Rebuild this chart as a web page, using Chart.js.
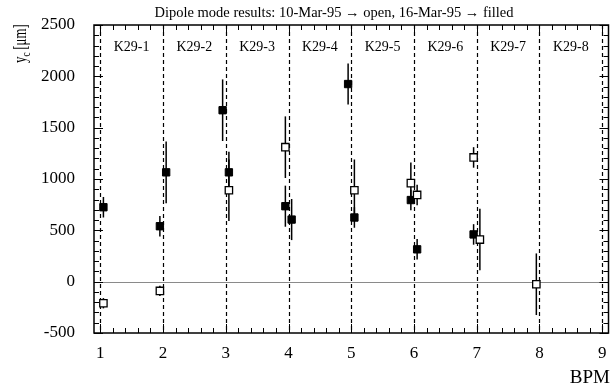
<!DOCTYPE html>
<html>
<head>
<meta charset="utf-8">
<script src="https://cdn.jsdelivr.net/npm/chart.js@4/dist/chart.umd.min.js"></script>
<style>
  body { margin: 0; background: #fff; }
  #wrap { width: 615px; height: 389px; }
</style>
</head>
<body>
<div id="wrap"><canvas id="dipoleChart" width="615" height="389"></canvas></div>
<script>
// chart data
const bpmTicks = [1, 2, 3, 4, 5, 6, 7, 8, 9];
const yTicks = [-500, 0, 500, 1000, 1500, 2000, 2500];
const sectionLabels = ["K29-1", "K29-2", "K29-3", "K29-4", "K29-5", "K29-6", "K29-7", "K29-8"];

// 10-Mar-95 -> open squares
const openX = [1.05, 1.95, 3.05, 3.95, 5.05, 5.95, 6.05, 6.95, 7.05, 7.95];
const openY = [-210, -90, 890, 1310, 890, 960, 845, 1210, 410, -25];
const openErr = [50, 50, 300, 300, 300, 200, 100, 100, 300, 300];

// 16-Mar-95 -> filled squares
const filledX = [1.05, 1.95, 2.05, 2.95, 3.05, 3.95, 4.05, 4.95, 5.05, 5.95, 6.05, 6.95];
const filledY = [725, 540, 1065, 1670, 1065, 735, 605, 1925, 625, 795, 315, 460];
const filledErr = [100, 100, 300, 300, 200, 200, 200, 200, 100, 100, 100, 100];

const serif = '"Liberation Serif", "DejaVu Serif", serif';

function toPoints(xs, ys) {
  return xs.map((x, i) => ({ x: x, y: ys[i] }));
}

// frame, inner ticks, dashed separators, zero line, labels
const framePlugin = {
  id: "frame",
  beforeDatasetsDraw(chart) {
    const { ctx, chartArea: a, scales } = chart;
    const xs = scales.x, ys = scales.y;
    ctx.save();

    // zero line
    ctx.strokeStyle = "#8a8a8a";
    ctx.lineWidth = 1;
    ctx.beginPath();
    const y0 = Math.round(ys.getPixelForValue(0)) + 0.5;
    ctx.moveTo(a.left, y0);
    ctx.lineTo(a.right, y0);
    ctx.stroke();

    // dashed lines at each BPM
    ctx.strokeStyle = "#000";
    ctx.lineWidth = 1.2;
    ctx.setLineDash([4, 3]);
    bpmTicks.forEach(v => {
      const px = Math.round(xs.getPixelForValue(v)) + 0.5;
      ctx.beginPath();
      ctx.moveTo(px, a.top);
      ctx.lineTo(px, a.bottom);
      ctx.stroke();
    });
    ctx.setLineDash([]);

    // error bars
    chart.data.datasets.forEach(ds => {
      ctx.lineWidth = 1.5;
      ctx.strokeStyle = "#000";
      ds.data.forEach((p, i) => {
        const px = xs.getPixelForValue(p.x);
        ctx.beginPath();
        ctx.moveTo(px, ys.getPixelForValue(p.y - ds.errors[i]));
        ctx.lineTo(px, ys.getPixelForValue(p.y + ds.errors[i]));
        ctx.stroke();
      });
    });

    // frame
    ctx.lineWidth = 1.5;
    ctx.strokeRect(a.left, a.top, a.right - a.left, a.bottom - a.top);

    // y ticks (inner, both sides)
    ctx.lineWidth = 1;
    for (let v = -500; v <= 2500; v += 100) {
      const py = Math.round(ys.getPixelForValue(v)) + 0.5;
      const len = v % 500 === 0 ? 9 : 5;
      ctx.beginPath();
      ctx.moveTo(a.left, py); ctx.lineTo(a.left + len, py);
      ctx.moveTo(a.right, py); ctx.lineTo(a.right - len, py);
      ctx.stroke();
    }
    // x ticks (inner, top and bottom)
    for (let k = 5; k <= 45; k++) {
      const v = k / 5;
      const px = Math.round(xs.getPixelForValue(v)) + 0.5;
      const len = k % 5 === 0 ? 9 : 5;
      ctx.beginPath();
      ctx.moveTo(px, a.bottom); ctx.lineTo(px, a.bottom - len);
      ctx.moveTo(px, a.top); ctx.lineTo(px, a.top + len);
      ctx.stroke();
    }

    // section labels
    ctx.fillStyle = "#000";
    ctx.font = "14px " + serif;
    ctx.textAlign = "center";
    ctx.textBaseline = "middle";
    sectionLabels.forEach((s, i) => {
      ctx.fillText(s, xs.getPixelForValue(bpmTicks[i] + 0.5), 47);
    });

    // title
    ctx.font = "14.5px " + serif;
    ctx.fillText("Dipole mode results: 10-Mar-95 \u2192 open, 16-Mar-95 \u2192 filled", 334, 13);

    // axis titles
    ctx.font = "19px " + serif;
    ctx.textAlign = "right";
    ctx.fillText("BPM", 610, 378);

    ctx.save();
    ctx.translate(26, 63);
    ctx.rotate(-Math.PI / 2);
    ctx.scale(0.92, 1.35);
    ctx.textAlign = "left";
    ctx.textBaseline = "alphabetic";
    ctx.font = "14px " + serif;
    ctx.fillText("y", 0, 0);
    let w = ctx.measureText("y").width;
    ctx.font = "10px " + serif;
    ctx.fillText("c", w, 3);
    w += ctx.measureText("c").width + 3;
    ctx.font = "14px " + serif;
    ctx.fillText("[\u03bcm]", w, 0);
    ctx.restore();

    ctx.restore();
  }
};

new Chart(document.getElementById("dipoleChart"), {
  type: "scatter",
  data: {
    datasets: [
      {
        label: "10-Mar-95",
        data: toPoints(openX, openY),
        errors: openErr,
        pointStyle: "rect",
        pointRadius: 5.2,
        backgroundColor: "#fff",
        borderColor: "#000",
        borderWidth: 1.3
      },
      {
        label: "16-Mar-95",
        data: toPoints(filledX, filledY),
        errors: filledErr,
        pointStyle: "rect",
        pointRadius: 5.2,
        backgroundColor: "#000",
        borderColor: "#000",
        borderWidth: 1
      }
    ]
  },
  options: {
    responsive: false,
    animation: false,
    layout: { padding: { top: 25, right: 6, left: 0, bottom: 0 } },
    plugins: {
      legend: { display: false },
      tooltip: { enabled: false },
      title: { display: false }
    },
    scales: {
      x: {
        type: "linear",
        min: 0.9,
        max: 9.1,
        grid: { display: false },
        border: { display: false },
        afterBuildTicks: s => { s.ticks = bpmTicks.map(v => ({ value: v })); },
        afterFit: s => { s.height = 56; },
        ticks: {
          padding: 2,
          color: "#000",
          font: { family: serif, size: 17 },
          maxRotation: 0,
          callback: v => String(v)
        }
      },
      y: {
        min: -500,
        max: 2500,
        grid: { display: false },
        border: { display: false },
        afterBuildTicks: s => { s.ticks = yTicks.map(v => ({ value: v })); },
        afterFit: s => { s.width = 94; },
        ticks: {
          padding: 11,
          color: "#000",
          font: { family: serif, size: 17 },
          callback: v => String(v)
        }
      }
    }
  },
  plugins: [framePlugin]
});
</script>
</body>
</html>
